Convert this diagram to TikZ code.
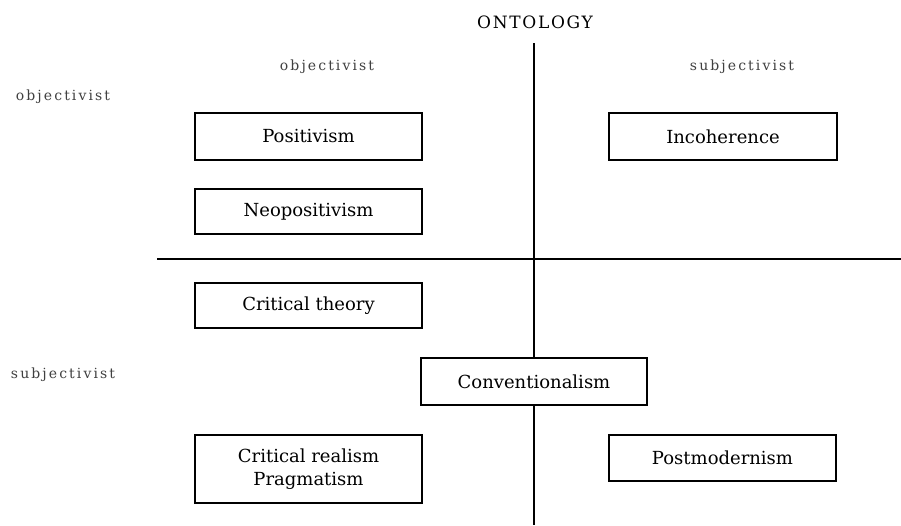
\documentclass[tikz,border=0pt]{standalone}
\usepackage{fontspec}
\setmainfont{DejaVu Serif}
\newfontfamily\lblfont[LetterSpace=15]{DejaVu Serif}
\newfontfamily\ttlfont[LetterSpace=10]{DejaVu Serif}
\begin{document}
\begin{tikzpicture}[x=1pt,y=-1pt,
  box/.style={draw=black,line width=1.4pt,fill=white,minimum width=227pt,minimum height=46pt,inner sep=0pt,align=center,font=\fontsize{18}{23}\selectfont},
  lbl/.style={text=black!75,inner sep=0pt,font=\lblfont\fontsize{14}{16}\selectfont},
  axis/.style={line width=1.4pt,draw=black}]
\useasboundingbox (0,0) rectangle (901,525);
\node[inner sep=0pt,font=\ttlfont\fontsize{17}{20}\selectfont] (ont) at (535,22) {ONTOLOGY};
\node[lbl] (objtop) at (327,67) {objectivist};
\node[lbl] (subtop) at (742,67) {subjectivist};
\node[lbl] (objleft) at (63,97) {objectivist};
\node[lbl] (subleft) at (63,375) {subjectivist};
\coordinate (vtop) at (534,43);
\coordinate (vbot) at (534,525);
\coordinate (hl) at (157,259);
\coordinate (hr) at (901,259);
\draw[axis] (vtop) -- (vbot);
\draw[axis] (hl) -- (hr);
\node[box,minimum height=47pt] (pos) at (308.5,136.5) {Positivism};
\node[box,minimum height=45pt] (neo) at (308.5,211.5) {Neopositivism};
\node[box,minimum height=45pt] (crit) at (308.5,305.5) {Critical theory};
\node[box,minimum height=68pt] (real) at (308.5,469) {Critical realism\\Pragmatism};
\node[box,minimum width=226pt,minimum height=47pt] (conv) at (534,381.5) {Conventionalism};
\node[box,minimum width=228pt,minimum height=47pt] (inc) at (723,136.5) {Incoherence};
\node[box,minimum height=46pt] (post) at (722.5,458) {Postmodernism};
\end{tikzpicture}
\end{document}
